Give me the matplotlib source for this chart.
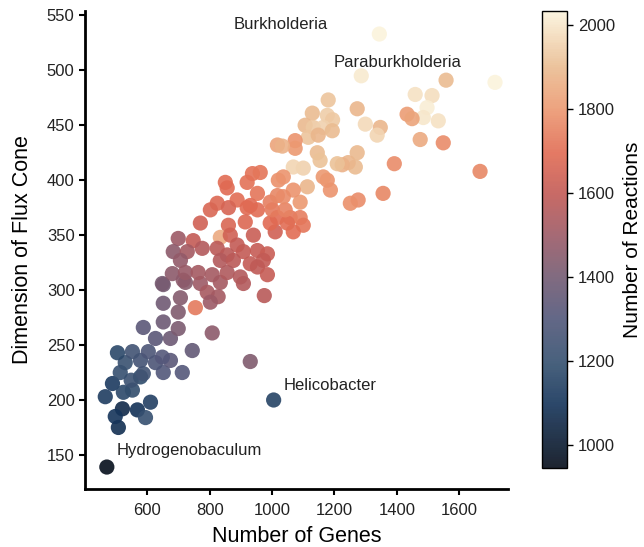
import numpy as np
import matplotlib
matplotlib.use("Agg")
import matplotlib.pyplot as plt
from matplotlib.colors import LinearSegmentedColormap, Normalize

plt.rcParams['font.family'] = ['Liberation Sans', 'DejaVu Sans']

# ------------------------------
# Data
# ------------------------------
genes = [
    # low cluster
    470, 507, 520, 568, 610, 594, 497, 465, 488, 523, 552, 578, 548, 1005, 930,
    513, 587, 651, 712, 529, 578, 626, 674, 504, 552, 603, 648, 744, 626, 674,
    587, 651, 699, 808,
    # middle
    651, 722, 651, 754, 699, 648, 715, 770, 834, 908, 975, 792, 827, 802, 706,
    937, 962, 850, 856, 953, 824, 888, 860, 802, 920, 953, 770, 860, 914, 834,
    940, 866, 699, 747, 776, 888, 824, 683, 728, 856, 908, 953, 985, 706, 834,
    876, 930, 972, 680, 722, 763, 808, 856, 898, 953, 985,
    1010, 1017, 1058, 1090, 994, 1049, 1100, 1068, 1001, 1042, 994, 1017, 1020,
    1017, 920, 930,
    # upper
    1344, 1286, 1558, 1715, 1459, 1513, 1497, 1485, 1533, 1433, 1449, 1475, 1549,
    1667, 1392, 1356, 1273, 1299, 1347, 1337, 1273, 1267, 1244, 1225, 1209, 1177,
    1164, 1187, 1276, 1251, 1145, 1154, 1100, 1113, 1090, 1180, 1177, 1194, 1129,
    1106, 1132, 1164, 1193, 1116, 1148, 1074, 1074, 1033, 1068, 1036, 1068, 1036,
]
flux_dim = [
    139, 175, 192, 191, 198, 184, 185, 203, 215, 207, 209, 221, 218, 200, 235,
    225, 224, 225, 225, 234, 236, 234, 236, 243, 244, 244, 239, 245, 256, 256,
    266, 271, 265, 261,
    305, 307, 288, 284, 280, 306, 309, 306, 307, 306, 295, 298, 294, 289, 293,
    406, 407, 398, 393, 388, 379, 382, 375, 373, 375, 373, 361, 359, 362, 348,
    350, 350, 347, 345, 338, 341, 338, 335, 335, 332, 335, 336, 333, 327, 327,
    327, 324, 327, 315, 316, 316, 314, 316, 312, 321, 314,
    353, 366, 366, 366, 361, 361, 359, 353, 373, 373, 380, 386, 400,
    432, 398, 377,
    533, 495, 491, 489, 478, 477, 466, 457, 454, 460, 456, 437, 434,
    408, 415, 388, 465, 451, 448, 441, 425, 412, 416, 414, 415, 400,
    403, 391, 382, 379, 425, 418, 411, 394, 380, 473, 459, 455, 461,
    450, 448, 448, 445, 439, 441, 436, 429, 431, 412, 403, 391, 385,
]
reactions = [
    950, 1080, 1060, 1090, 1140, 1200, 1100, 1130, 1120, 1170, 1190, 1180, 1220, 1150, 1430,
    1200, 1240, 1300, 1310, 1210, 1250, 1280, 1330, 1170, 1240, 1280, 1310, 1350, 1330, 1380,
    1330, 1380, 1420, 1460,
    1400, 1450, 1390, 1730, 1430, 1410, 1460, 1500, 1520, 1560, 1570, 1530, 1520, 1500, 1440,
    1710, 1720, 1700, 1690, 1720, 1680, 1700, 1660, 1670, 1690, 1700, 1640, 1670, 1680, 1850,
    1620, 1640, 1500, 1600, 1560, 1600, 1580, 1460, 1520, 1580, 1600, 1610, 1620, 1480, 1560,
    1580, 1600, 1600, 1460, 1490, 1520, 1520, 1550, 1560, 1590, 1610,
    1640, 1700, 1720, 1740, 1690, 1700, 1720, 1700, 1730, 1750, 1740, 1760, 1780,
    1830, 1710, 1690,
    2030, 2010, 1900, 2050, 1990, 1980, 2020, 2000, 1990, 1810, 1830, 1850, 1770,
    1760, 1770, 1760, 1880, 1970, 1880, 1960, 1890, 1900, 1880, 1870, 1910, 1790,
    1800, 1790, 1770, 1780, 1900, 1910, 1950, 1880, 1800, 1920, 1940, 1930, 1900,
    1890, 1930, 1950, 1900, 1920, 1880, 1790, 1800, 1870, 1960, 1790, 1790, 1770,
]

labels = ["Burkholderia", "Paraburkholderia", "Helicobacter", "Hydrogenobaculum"]
label_x = [876, 1196, 1036, 500]
label_y = [542, 507, 213, 154]

# colour map (dark navy -> slate -> mauve -> red -> salmon -> cream)
cmap = LinearSegmentedColormap.from_list("navy_cream", [
    (0.00, "#050d1a"),
    (0.14, "#15345a"),
    (0.23, "#34506f"),
    (0.33, "#53577a"),
    (0.42, "#745b72"),
    (0.51, "#9c5a66"),
    (0.60, "#c25a55"),
    (0.69, "#e16b53"),
    (0.79, "#ec9a72"),
    (0.88, "#eabd92"),
    (1.00, "#fbf3dc"),
])
norm = Normalize(vmin=945, vmax=2033)

# ------------------------------
# Figure
# ------------------------------
fig = plt.figure(figsize=(6.44, 5.47), dpi=100)
ax = fig.add_axes([0.132, 0.106, 0.657, 0.874])
cax = fig.add_axes([0.842, 0.1445, 0.039, 0.835])

sc = ax.scatter(genes, flux_dim, c=reactions, cmap=cmap, norm=norm,
                s=120, alpha=0.9, linewidths=0)

for name, tx, ty in zip(labels, label_x, label_y):
    ax.text(tx, ty, name, fontsize=12, va='center', ha='left', color='#222222')

ax.set_xlim(400, 1757)
ax.set_ylim(119, 554)
ax.set_xticks([600, 800, 1000, 1200, 1400, 1600])
ax.set_yticks([150, 200, 250, 300, 350, 400, 450, 500, 550])
ax.set_xlabel("Number of Genes", fontsize=15.5, labelpad=6)
ax.set_ylabel("Dimension of Flux Cone", fontsize=15.5, labelpad=10)
ax.tick_params(labelsize=12, length=4, width=1.5, color='black', labelcolor='#222222')
ax.tick_params(axis='x', pad=6)
for side in ("top", "right"):
    ax.spines[side].set_visible(False)
for side in ("left", "bottom"):
    ax.spines[side].set_linewidth(2)

cb = fig.colorbar(sc, cax=cax)
cb.set_ticks([1000, 1200, 1400, 1600, 1800, 2000])
cb.set_label("Number of Reactions", fontsize=15, labelpad=6)
cb.ax.tick_params(labelsize=12, length=4, width=1, labelcolor='#222222')
cb.outline.set_linewidth(1)

fig.savefig("out.png", dpi=100)
